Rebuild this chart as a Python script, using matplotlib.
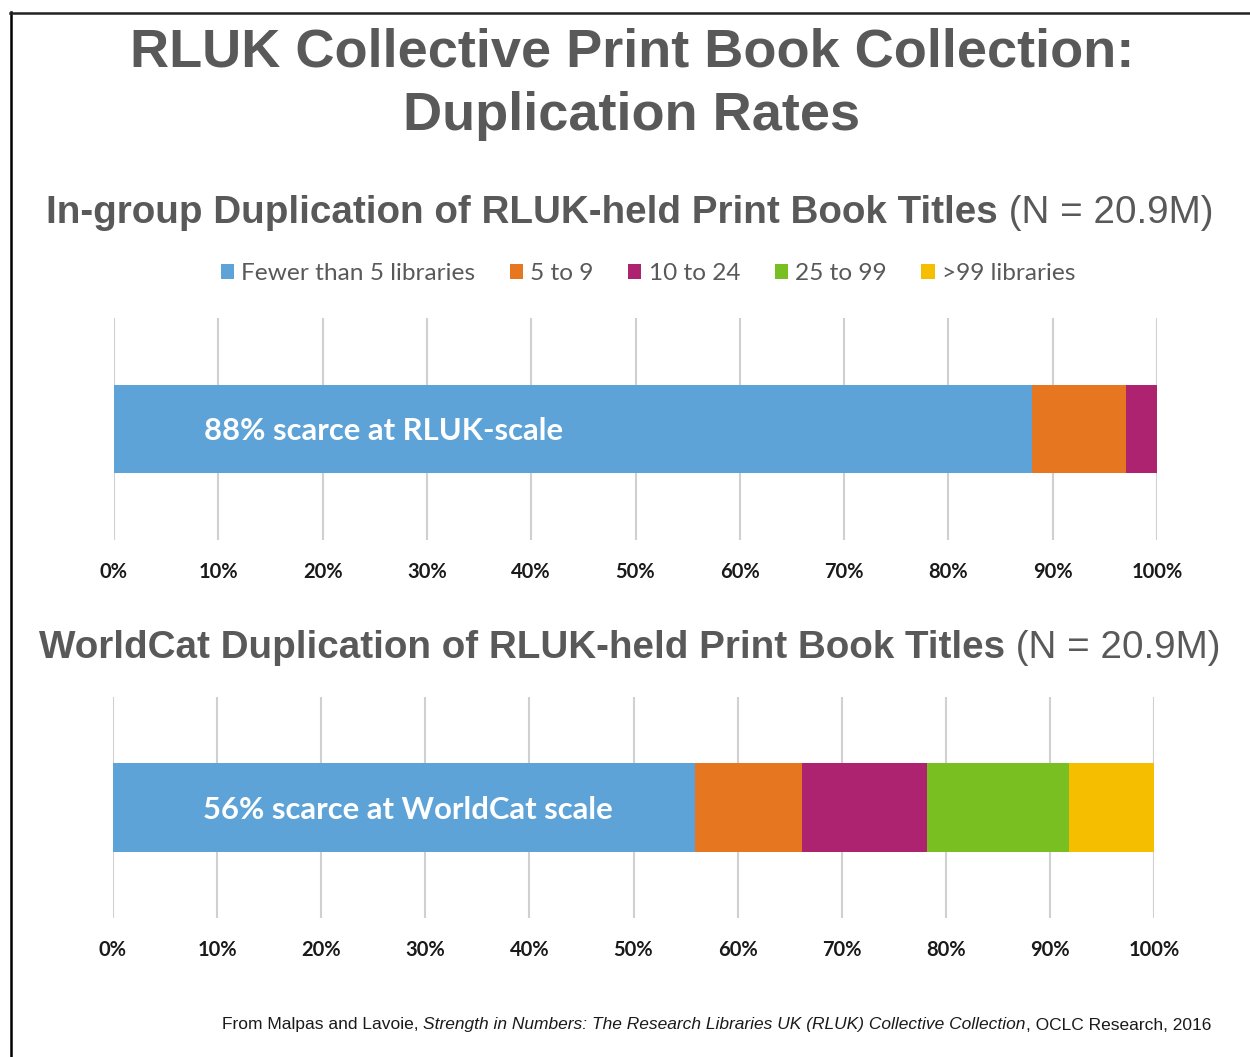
import matplotlib
matplotlib.use("Agg")
import matplotlib.pyplot as plt
from matplotlib.patches import Patch
from matplotlib.lines import Line2D

# ---- data ----
categories = ["Fewer than 5 libraries", "5 to 9", "10 to 24", "25 to 99", ">99 libraries"]
rluk_shares = [88, 9, 3, 0, 0]
worldcat_shares = [55.9, 10.3, 12.0, 13.6, 8.2]
tick_values = [0, 10, 20, 30, 40, 50, 60, 70, 80, 90, 100]
tick_labels = ["0%", "10%", "20%", "30%", "40%", "50%", "60%", "70%", "80%", "90%", "100%"]
colors = ["#5ea3d8", "#e77621", "#ad2370", "#79bf21", "#f5bf00"]

title = "RLUK Collective Print Book Collection:\nDuplication Rates"
sub1_bold = "In-group Duplication of RLUK-held Print Book Titles"
sub2_bold = "WorldCat Duplication of RLUK-held Print Book Titles"
sub_reg = " (N = 20.9M)"
bar1_label = "88% scarce at RLUK-scale"
bar2_label = "56% scarce at WorldCat scale"
footer_parts = [("From Malpas and Lavoie, ", "normal"),
                ("Strength in Numbers: The Research Libraries UK (RLUK) Collective Collection", "italic"),
                (", OCLC Research, 2016", "normal")]

W, H = 1250, 1057
fig = plt.figure(figsize=(W / 100, H / 100), dpi=100)
fig.patch.set_facecolor("white")

GREY = "#595959"
CAL = ["Lato", "DejaVu Sans"]
ARIAL = ["Liberation Sans", "DejaVu Sans"]


def fx(px):
    return px / W


def fy(py):
    return 1 - py / H


def make_axes(left, right, top, bottom):
    return fig.add_axes([fx(left), fy(bottom), fx(right) - fx(left), fy(top) - fy(bottom)])


def draw_bar(ax, shares, label):
    left = 0
    for v, c in zip(shares, colors):
        if v > 0:
            ax.barh(0.5, v, left=left, height=0.40, color=c, edgecolor="none", zorder=3)
        left += v
    ax.set_xlim(0, 100)
    ax.set_ylim(0, 1)
    ax.set_yticks([])
    ax.set_xticks(tick_values)
    ax.set_xticklabels(tick_labels, fontfamily=CAL, fontweight="bold", fontsize=14.5, color="#1a1a1a")
    ax.tick_params(axis="x", length=0, pad=16)
    ax.grid(axis="x", color="#d0d0d0", linewidth=1.5, zorder=0)
    ax.set_axisbelow(True)
    for s in ax.spines.values():
        s.set_visible(False)
    ax.text(8.6, 0.49, label, fontfamily=CAL, fontweight="bold", fontsize=22.3, color="white",
            va="center", ha="left", zorder=5)


ax1 = make_axes(114, 1157, 318, 540)
draw_bar(ax1, rluk_shares, bar1_label)
ax2 = make_axes(113, 1154, 697, 918)
draw_bar(ax2, worldcat_shares, bar2_label)

# title
fig.text(fx(632), fy(84), title, ha="center", va="center", fontfamily=ARIAL, fontweight="bold",
         fontsize=39, color=GREY, linespacing=1.34)

renderer = fig.canvas.get_renderer()


def two_part(center_px, y_px, bold, reg, size):
    t1 = fig.text(0, fy(y_px), bold, ha="left", va="center", fontfamily=ARIAL, fontweight="bold",
                  fontsize=size, color=GREY)
    t2 = fig.text(0, fy(y_px), reg, ha="left", va="center", fontfamily=ARIAL, fontweight="normal",
                  fontsize=size, color=GREY)
    w1 = t1.get_window_extent(renderer).width
    w2 = t2.get_window_extent(renderer).width
    start = center_px - (w1 + w2) / 2
    t1.set_x(fx(start))
    t2.set_x(fx(start + w1))


two_part(630, 213, sub1_bold, sub_reg, 27.8)
two_part(630, 648, sub2_bold, sub_reg, 27.8)

# legend
handles = [Patch(facecolor=c, edgecolor="none") for c in colors]
leg = fig.legend(handles, categories, loc="center", bbox_to_anchor=(fx(648), fy(274)), ncol=5,
                 frameon=False, handlelength=0.55, handleheight=0.55, handletextpad=0.3,
                 columnspacing=1.4, prop={"family": CAL, "size": 17.6})
for t in leg.get_texts():
    t.set_color(GREY)

# footer
x = 222
for txt, style in footer_parts:
    t = fig.text(fx(x), fy(1025), txt, ha="left", va="center", fontfamily=["Liberation Sans Narrow", "Liberation Sans"],
                 fontstyle=style, fontsize=12.5, color="#1a1a1a")
    x += t.get_window_extent(renderer).width

# border lines
fig.add_artist(Line2D([fx(11), fx(11)], [fy(12), 0], transform=fig.transFigure, color="black", linewidth=1.8))
fig.add_artist(Line2D([fx(10), 1], [fy(12.5), fy(12.5)], transform=fig.transFigure, color="#222222", linewidth=1.8))

fig.savefig("out.png", dpi=100, facecolor="white")
